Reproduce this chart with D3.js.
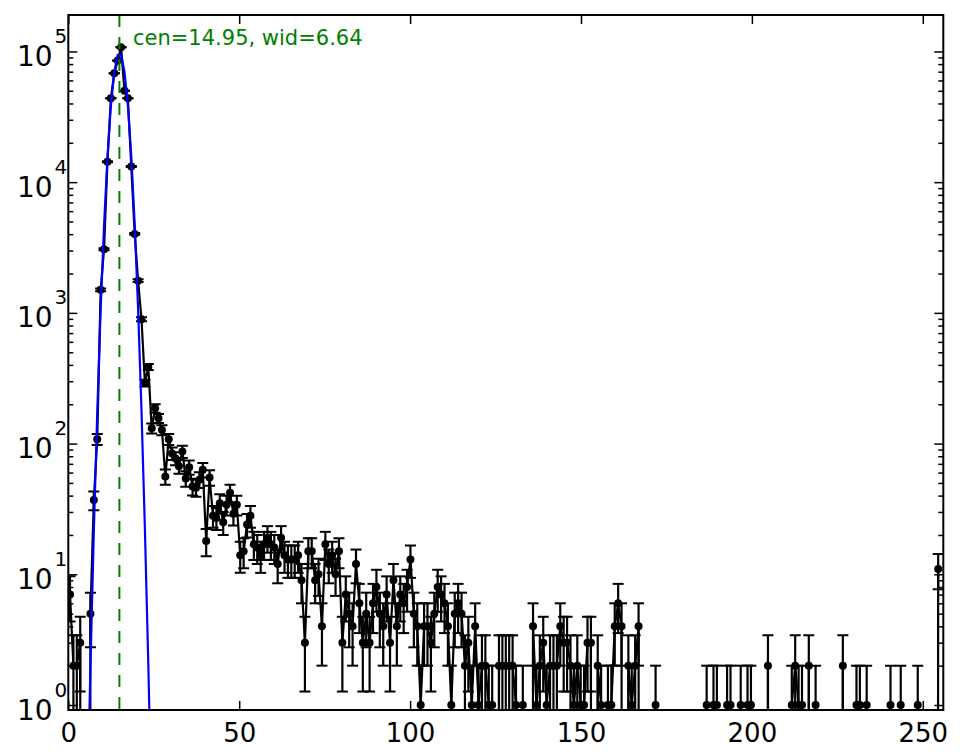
<!DOCTYPE html>
<html lang="en">
<head>
<meta charset="UTF-8">
<title>Histogram with gaussian fit</title>
<script src="https://cdn.jsdelivr.net/npm/d3@7"></script>
<style>
  body { margin: 0; background: #fff; }
  svg text { font-family: "DejaVu Sans", sans-serif; }
</style>
</head>
<body>
<svg id="chart" width="965" height="756"></svg>
<script>
// counts per bin, bins 0..255
const counts = [
  7, 2, 2, 3, 0, 0, 5, 37, 108, 1500,
  3070, 14350, 43850, 68100, 85100, 107700, 50100, 43850, 13150, 4015,
  1763, 894, 291, 386, 131, 186, 156, 127, 56, 108,
  84, 77, 67, 87, 54, 66, 47, 46, 53, 63,
  18, 55, 28, 27, 35, 25, 34, 42, 29, 34,
  14, 15, 24, 28, 17, 16, 14, 17, 19, 17,
  16, 12, 19, 14, 13, 13, 13, 14, 9, 3,
  15, 15, 9, 10, 4, 17, 12, 14, 10, 15,
  3, 7, 5, 4, 12, 6, 3, 5, 3, 6,
  8, 5, 4, 7, 3, 9, 4, 7, 6, 8,
  13, 5, 4, 1, 4, 4, 3, 5, 8, 7,
  6, 4, 1, 5, 6, 5, 2, 3, 1, 4,
  1, 2, 2, 1, 1, 0, 2, 2, 2, 2,
  2, 1, 0, 1, 0, 0, 4, 1, 2, 3,
  1, 2, 2, 2, 4, 3, 3, 2, 1, 2,
  1, 1, 3, 3, 0, 2, 1, 0, 1, 1,
  4, 6, 4, 0, 2, 1, 2, 4, 0, 0,
  0, 0, 1, 0, 0, 0, 0, 0, 0, 0,
  0, 0, 0, 0, 0, 0, 0, 1, 0, 1,
  1, 0, 0, 1, 1, 0, 0, 1, 0, 1,
  1, 0, 0, 0, 0, 2, 0, 0, 0, 0,
  0, 0, 1, 2, 1, 1, 0, 2, 0, 1,
  0, 0, 0, 0, 0, 0, 0, 2, 0, 0,
  0, 1, 1, 0, 1, 0, 0, 0, 0, 0,
  0, 1, 0, 0, 1, 0, 0, 0, 0, 1,
  0, 0, 0, 0, 0, 11
];

// gaussian fit sampled at the bin centres (bins 3..25)
const fitBins = [3, 4, 5, 6, 7, 8, 9, 10, 11, 12, 13, 14, 15, 16, 17, 18, 19, 20, 21, 22, 23, 24, 25];
const fitValues = [0.00025, 0.0066, 0.132, 1.95, 21.4, 173, 1047, 4672, 15480, 38060, 69380, 93800,
  94050, 69920, 38560, 15770, 4780, 1077, 179, 22.2, 2.04, 0.139, 0.007];

const fitCen = 14.95;
const fitWid = 6.64;
const xTicks = [0, 50, 100, 150, 200, 250];
const yDecades = [0, 1, 2, 3, 4, 5];

const binCenter = i => (i + 0.5) * 255 / 256;
const floorVal = 1e-30; // stands in for clipped non-positive values

const svg = d3.select("#chart");
const pLeft = 68.3, pRight = 943.3, pTop = 15, pBottom = 710;

const x = d3.scaleLinear().domain([0, 256]).range([pLeft, pRight]);
const y = d3.scaleLog().domain([0.916, 190000]).range([pBottom, pTop]);

svg.append("rect").attr("width", 965).attr("height", 756).attr("fill", "#fff");

svg.append("clipPath").attr("id", "plotClip")
  .append("rect")
  .attr("x", pLeft).attr("y", pTop)
  .attr("width", pRight - pLeft).attr("height", pBottom - pTop);

const plot = svg.append("g").attr("clip-path", "url(#plotClip)");

const data = counts.map((c, i) => ({ x: binCenter(i), c: c }));
const yv = v => y(Math.max(v, floorVal));
const lw = 2.2;

// data line
plot.append("path")
  .datum(data)
  .attr("fill", "none")
  .attr("stroke", "#000")
  .attr("stroke-width", lw)
  .attr("d", d3.line().x(d => x(d.x)).y(d => yv(d.c)));

// error bars, sqrt(N)
const pos = data.filter(d => d.c > 0);
const capHalf = 5.5;
plot.selectAll(".ebar").data(pos).enter().append("line")
  .attr("x1", d => x(d.x)).attr("x2", d => x(d.x))
  .attr("y1", d => yv(d.c - Math.sqrt(d.c)))
  .attr("y2", d => yv(d.c + Math.sqrt(d.c)))
  .attr("stroke", "#000").attr("stroke-width", lw);

plot.selectAll(".capTop").data(pos).enter().append("line")
  .attr("x1", d => x(d.x) - capHalf).attr("x2", d => x(d.x) + capHalf)
  .attr("y1", d => y(d.c + Math.sqrt(d.c))).attr("y2", d => y(d.c + Math.sqrt(d.c)))
  .attr("stroke", "#000").attr("stroke-width", 2);

plot.selectAll(".capBot").data(pos.filter(d => d.c - Math.sqrt(d.c) > 0)).enter().append("line")
  .attr("x1", d => x(d.x) - capHalf).attr("x2", d => x(d.x) + capHalf)
  .attr("y1", d => y(d.c - Math.sqrt(d.c))).attr("y2", d => y(d.c - Math.sqrt(d.c)))
  .attr("stroke", "#000").attr("stroke-width", 2);

plot.selectAll(".dot").data(pos).enter().append("circle")
  .attr("cx", d => x(d.x)).attr("cy", d => y(d.c))
  .attr("r", 4).attr("fill", "#000");

// fit curve
plot.append("path")
  .datum(fitBins.map((b, i) => ({ x: binCenter(b), v: fitValues[i] })))
  .attr("fill", "none")
  .attr("stroke", "#0000ff")
  .attr("stroke-width", 2.2)
  .attr("d", d3.line().x(d => x(d.x)).y(d => y(d.v)));

// centre line
plot.append("line")
  .attr("x1", x(fitCen)).attr("x2", x(fitCen))
  .attr("y1", pTop).attr("y2", pBottom)
  .attr("stroke", "#008000").attr("stroke-width", 2)
  .attr("stroke-dasharray", "12,10");

svg.append("text")
  .attr("x", 133).attr("y", 45)
  .attr("fill", "#008000")
  .attr("font-size", 21)
  .text(`cen=${fitCen.toFixed(2)}, wid=${fitWid.toFixed(2)}`);

// axes
const majorLen = 9, minorLen = 5;
const yMinor = [];
yDecades.forEach(k => { for (let m = 2; m <= 9; m++) { const v = m * Math.pow(10, k); if (v < 190000) yMinor.push(v); } });
const yMajor = yDecades.map(k => Math.pow(10, k));

const axisStyle = g => {
  g.select(".domain").remove();
  g.selectAll(".tick line").attr("stroke", "#000").attr("stroke-width", 1.5);
};

svg.append("g").attr("transform", `translate(0,${pBottom})`)
  .call(d3.axisBottom(x).tickValues(xTicks).tickSize(-majorLen).tickPadding(majorLen + 5).tickFormat(d3.format("d")))
  .call(axisStyle)
  .call(g => g.selectAll("text").attr("font-size", 26).attr("fill", "#000").attr("font-family", "DejaVu Sans"));

svg.append("g").attr("transform", `translate(0,${pTop})`)
  .call(d3.axisTop(x).tickValues(xTicks).tickSize(-majorLen).tickFormat(""))
  .call(axisStyle);

const yLeft = svg.append("g").attr("transform", `translate(${pLeft},0)`)
  .call(d3.axisLeft(y).tickValues(yMajor).tickSize(-majorLen).tickPadding(0).tickFormat(""))
  .call(axisStyle);

yLeft.selectAll(".tick text").each(function (d) {
  const t = d3.select(this)
    .attr("x", -1).attr("dy", null).attr("y", 14)
    .attr("font-size", 28).attr("fill", "#000").attr("font-family", "DejaVu Sans")
    .attr("text-anchor", "end");
  t.append("tspan").text("10");
  t.append("tspan").attr("dx", 2).attr("dy", -23).attr("font-size", 20).text(Math.round(Math.log10(d)));
});

svg.append("g").attr("transform", `translate(${pLeft},0)`)
  .call(d3.axisLeft(y).tickValues(yMinor).tickSize(-minorLen).tickFormat(""))
  .call(axisStyle);

svg.append("g").attr("transform", `translate(${pRight},0)`)
  .call(d3.axisRight(y).tickValues(yMajor).tickSize(-majorLen).tickFormat(""))
  .call(axisStyle);

svg.append("g").attr("transform", `translate(${pRight},0)`)
  .call(d3.axisRight(y).tickValues(yMinor).tickSize(-minorLen).tickFormat(""))
  .call(axisStyle);

// frame
svg.append("rect")
  .attr("x", pLeft).attr("y", pTop)
  .attr("width", pRight - pLeft).attr("height", pBottom - pTop)
  .attr("fill", "none").attr("stroke", "#000").attr("stroke-width", 2);
</script>
</body>
</html>
